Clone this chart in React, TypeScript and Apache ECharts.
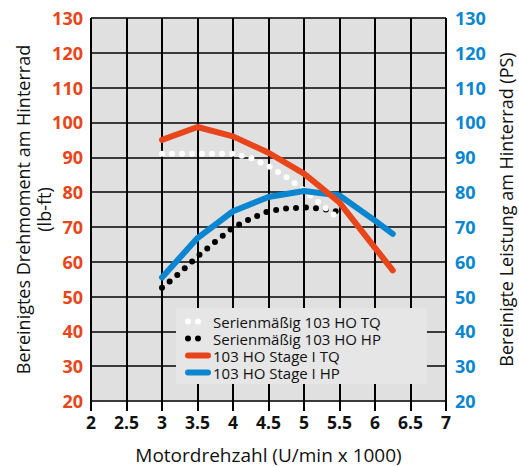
import React, { useEffect, useRef } from "react";
import * as echarts from "echarts";

const stageRpm = [3, 3.5, 4, 4.5, 5, 5.5, 6, 6.25];
const stageTQ = [95, 98.7, 96, 91.3, 85.3, 77, 64, 57.5];
const stageHP = [55.5, 66.8, 74.5, 78.6, 80.3, 79, 71.8, 68];

const stockTQRpm = [3, 3.5, 4, 4.25, 4.5, 4.75, 5, 5.25, 5.5];
const stockTQ = [91, 91, 91, 89.8, 87.5, 84.3, 80.5, 76.3, 72.2];

const stockHPRpm = [3, 3.25, 3.5, 3.75, 4, 4.25, 4.5, 4.75, 5, 5.25, 5.5];
const stockHP = [52.5, 56.8, 61.5, 65.7, 69.8, 72.4, 74.5, 75.3, 75.6, 75.2, 74.3];

const xTicks = [2, 2.5, 3, 3.5, 4, 4.5, 5, 5.5, 6, 6.5, 7];

const seriesNames = [
  "Serienmäßig 103 HO TQ",
  "Serienmäßig 103 HO HP",
  "103 HO Stage I TQ",
  "103 HO Stage I HP",
];

const RED = "#e8461a";
const BLUE = "#0a86d0";
const FONT = "'Open Sans', Roboto, sans-serif";

const pairs = (xs: number[], ys: number[]) => xs.map((x, i) => [x, ys[i]]);

export default function App() {
  const ref = useRef<HTMLDivElement>(null);
  useEffect(() => {
    if (!ref.current) return;
    const chart = echarts.init(ref.current, null, { renderer: "svg" });
    const dotStyle = (color: string) => ({
      color,
      width: 6,
      type: [0, 10] as any,
      cap: "round" as const,
    });
    const hiddenSymbol = {
      color: "rgba(0,0,0,0)",
      borderColor: "rgba(0,0,0,0)",
      borderWidth: 0,
      opacity: 0,
    };
    chart.setOption({
      animation: false,
      textStyle: { fontFamily: FONT },
      grid: {
        left: 91,
        right: 73,
        top: 18,
        bottom: 66,
        show: true,
        backgroundColor: "#e0e0e0",
        borderWidth: 0,
        containLabel: false,
        outerBoundsMode: "none",
      },
      legend: {
        orient: "vertical",
        left: 176,
        top: 308,
        backgroundColor: "#e6e6e6",
        padding: [6, 46, 4, 9],
        itemGap: 2,
        itemWidth: 20,
        itemHeight: 15,
        textStyle: { fontSize: 15, lineHeight: 15, color: "#111", fontFamily: FONT },
        data: [
          { name: seriesNames[0], lineStyle: dotStyle("#ffffff"), itemStyle: hiddenSymbol },
          { name: seriesNames[1], lineStyle: dotStyle("#000000"), itemStyle: hiddenSymbol },
          { name: seriesNames[2], lineStyle: { color: RED, width: 6, cap: "round" }, itemStyle: hiddenSymbol },
          { name: seriesNames[3], lineStyle: { color: BLUE, width: 6, cap: "round" }, itemStyle: hiddenSymbol },
        ],
      },
      xAxis: {
        type: "value",
        min: 2,
        max: 7,
        interval: 0.5,
        name: "Motordrehzahl (U/min x 1000)",
        nameLocation: "middle",
        nameGap: 44,
        nameMoveOverlap: false,
        nameTextStyle: { fontSize: 19, lineHeight: 19, color: "#111", fontFamily: FONT },
        axisLine: { show: false },
        axisTick: { show: true, length: 10, lineStyle: { color: "#000", width: 2 } },
        axisLabel: {
          margin: 12,
          fontSize: 17.5,
          fontWeight: "bold",
          color: "#111",
          fontFamily: FONT,
          formatter: (v: number) => (xTicks.includes(v) ? String(v) : ""),
        },
        splitLine: { show: true, lineStyle: { color: "#000", width: 2 } },
      },
      yAxis: [
        {
          type: "value",
          min: 20,
          max: 130,
          interval: 10,
          position: "left",
          name: "Bereinigtes Drehmoment am Hinterrad\n(lb-ft)",
          nameLocation: "middle",
          nameGap: 37,
          nameMoveOverlap: false,
          nameTextStyle: { fontSize: 18, color: "#111", fontFamily: FONT, lineHeight: 21 },
          axisLine: { show: false },
          axisTick: { show: false },
          axisLabel: { margin: 8, fontSize: 18, fontWeight: "bold", color: RED, fontFamily: FONT },
          splitLine: { show: true, lineStyle: { color: "#3a3a3a", width: 2 } },
        },
        {
          type: "value",
          min: 20,
          max: 130,
          interval: 10,
          position: "right",
          name: "Bereinigte Leistung am Hinterrad (PS)",
          nameLocation: "middle",
          nameGap: 50,
          nameMoveOverlap: false,
          nameTextStyle: { fontSize: 18, color: "#111", fontFamily: FONT, lineHeight: 20 },
          axisLine: { show: false },
          axisTick: { show: false },
          axisLabel: { margin: 9, fontSize: 18, fontWeight: "bold", color: BLUE, fontFamily: FONT },
          splitLine: { show: false },
        },
      ],
      series: [
        {
          name: seriesNames[3],
          type: "line",
          yAxisIndex: 1,
          data: pairs(stageRpm, stageHP),
          symbol: "none",
          lineStyle: { color: BLUE, width: 6, cap: "round", join: "round" },
          itemStyle: { color: BLUE },
          z: 3,
        },
        {
          name: seriesNames[1],
          type: "line",
          yAxisIndex: 1,
          data: pairs(stockHPRpm, stockHP),
          symbol: "none",
          lineStyle: dotStyle("#000000"),
          itemStyle: { color: "#000" },
          z: 2,
        },
        {
          name: seriesNames[0],
          type: "line",
          yAxisIndex: 0,
          data: pairs(stockTQRpm, stockTQ),
          symbol: "none",
          lineStyle: dotStyle("#ffffff"),
          itemStyle: { color: "#fff" },
          z: 2,
        },
        {
          name: seriesNames[2],
          type: "line",
          yAxisIndex: 0,
          data: pairs(stageRpm, stageTQ),
          symbol: "none",
          lineStyle: { color: RED, width: 6, cap: "round", join: "round" },
          itemStyle: { color: RED },
          z: 4,
        },
      ],
    });
    return () => chart.dispose();
  }, []);
  return (
    <div
      ref={ref}
      style={{ position: "fixed", left: 0, top: 0, width: 519, height: 467, background: "#fff" }}
    />
  );
}
